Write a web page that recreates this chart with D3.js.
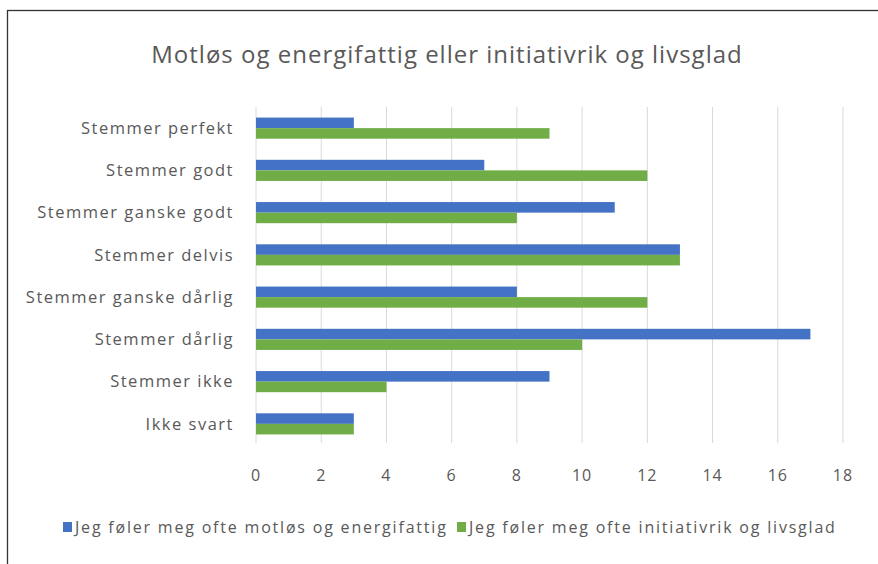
<!DOCTYPE html>
<html lang="en">
  <head>
    <meta charset="utf-8">
    <title>Motløs og energifattig</title>
    <style>
      body { margin: 0; background: #fff; }
      text { font-family: "Open Sans", sans-serif; fill: #595959; }
    </style>
  </head>
  <body>
    <svg width="878" height="564"></svg>
    <script src="https://cdn.jsdelivr.net/npm/d3@7"></script>
    <script>
      const categories = ['Stemmer perfekt', 'Stemmer godt', 'Stemmer ganske godt', 'Stemmer delvis',
        'Stemmer ganske dårlig', 'Stemmer dårlig', 'Stemmer ikke', 'Ikke svart'];
      const seriesNames = ['Jeg føler meg ofte motløs og energifattig', 'Jeg føler meg ofte initiativrik og livsglad'];
      const motlos = [3, 7, 11, 13, 8, 17, 9, 3];
      const initiativrik = [9, 12, 8, 13, 12, 10, 4, 3];
      const xTicks = [0, 2, 4, 6, 8, 10, 12, 14, 16, 18];
      const colours = ['#4472C4', '#70AD47'];

      const svg = d3.select('svg');

      // chart frame (right and bottom edges fall outside the picture)
      svg.append('rect')
        .attr('x', 7.5).attr('y', 10.5)
        .attr('width', 880).attr('height', 560)
        .attr('fill', 'none').attr('stroke', '#333').attr('stroke-width', 1.3);

      svg.append('text')
        .attr('x', 447).attr('y', 63)
        .attr('text-anchor', 'middle')
        .style('font-size', '24px')
        .style('letter-spacing', '1px')
        .text('Motløs og energifattig eller initiativrik og livsglad');

      const x = d3.scaleLinear().domain([0, 18]).range([256, 843]);
      const y = d3.scaleBand().domain(categories).range([107, 445]);
      const sub = d3.scaleBand().domain([0, 1]).range([0, y.bandwidth()]).paddingInner(0).paddingOuter(1.0);

      // gridlines
      svg.append('g').selectAll('line')
        .data(xTicks).enter()
        .append('line')
        .attr('x1', d => x(d)).attr('x2', d => x(d))
        .attr('y1', 107).attr('y2', 443)
        .attr('stroke', '#d9d9d9').attr('stroke-width', 1);

      const rows = categories.map((c, i) => ({ cat: c, vals: [motlos[i], initiativrik[i]] }));

      svg.append('g').selectAll('g')
        .data(rows).enter()
        .append('g')
        .attr('transform', d => 'translate(0,' + y(d.cat) + ')')
        .selectAll('rect')
        .data(d => d.vals).enter()
        .append('rect')
        .attr('x', x(0))
        .attr('y', (d, i) => sub(i))
        .attr('width', d => x(d) - x(0))
        .attr('height', sub.bandwidth())
        .attr('fill', (d, i) => colours[i]);

      // category labels
      svg.append('g').selectAll('text')
        .data(categories).enter()
        .append('text')
        .attr('x', 234)
        .attr('y', d => y(d) + y.bandwidth() / 2)
        .attr('dy', '0.35em')
        .attr('text-anchor', 'end')
        .style('font-size', '16.5px')
        .style('letter-spacing', '1.5px')
        .text(d => d);

      // x tick labels
      svg.append('g').selectAll('text')
        .data(xTicks).enter()
        .append('text')
        .attr('x', d => x(d))
        .attr('y', 481)
        .attr('text-anchor', 'middle')
        .style('font-size', '16px')
        .style('letter-spacing', '1px')
        .text(d => d);

      // legend
      const legend = svg.append('g');
      const lx = [63, 457];
      seriesNames.forEach((name, i) => {
        legend.append('rect')
          .attr('x', lx[i]).attr('y', 522)
          .attr('width', 9).attr('height', 10)
          .attr('fill', colours[i]);
        legend.append('text')
          .attr('x', lx[i] + 12).attr('y', 533)
          .style('font-size', '16px')
          .style('letter-spacing', '1.8px')
          .text(name);
      });
    </script>
  </body>
</html>
